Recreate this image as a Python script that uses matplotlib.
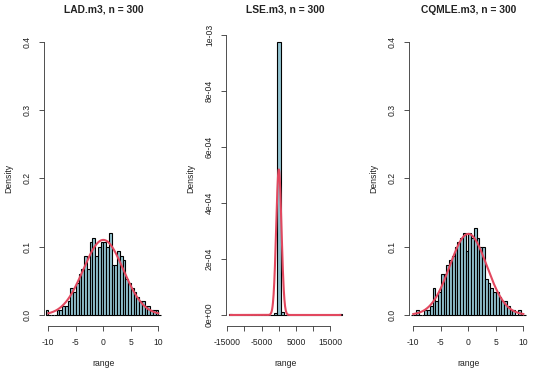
import numpy as np
import matplotlib
matplotlib.use("Agg")
import matplotlib.pyplot as plt

plt.rcParams['font.family'] = ['Liberation Sans', 'DejaVu Sans']

# ---------------- data ----------------
n_obs = 300
titles = ["LAD.m3, n = 300", "LSE.m3, n = 300", "CQMLE.m3, n = 300"]
x_label = "range"
y_label = "Density"

# LAD.m3 histogram (bin width 0.5 starting at -10.5), counts per bin
lad_bin_start = -10.5
lad_bin_width = 0.5
lad_counts = [1, 0, 0, 0, 1, 1, 2, 2, 3, 6, 5, 7, 9, 10, 13, 10, 16, 17, 13, 15, 16,
              16, 15, 18, 11, 11, 14, 13, 12, 8, 7, 6, 5, 4, 3, 3, 2, 2, 1, 1, 1, 0]
lad_mean, lad_sd = 0.0, 3.63
lad_xlim = [-10, 10]
lad_ylim = [0, 0.4]
lad_xticks = [-10, -5, 0, 5, 10]
lad_xticklabels = ["-10", "-5", "0", "5", "10"]
lad_yticks = [0.0, 0.1, 0.2, 0.3, 0.4]
lad_yticklabels = ["0.0", "0.1", "0.2", "0.3", "0.4"]

# LSE.m3 histogram (bin width 1000 starting at -14500)
lse_bin_start = -14500
lse_bin_width = 1000
lse_counts = [1, 0, 0, 0, 0, 0, 0, 0, 0, 0, 0, 0, 0, 2, 293, 3, 0,
              0, 0, 0, 0, 0, 0, 0, 0, 0, 0, 0, 0, 0, 0, 0, 1]
lse_mean, lse_sd = 0.0, 767.0
lse_xlim = [-14100, 17930]
lse_xticks = [-15000, -10000, -5000, 0, 5000, 10000, 15000]
lse_xticklabels = ["-15000", "", "-5000", "", "5000", "", "15000"]
lse_yticks = [0.0, 2e-4, 4e-4, 6e-4, 8e-4, 1e-3]
lse_yticklabels = ["0e+00", "2e-04", "4e-04", "6e-04", "8e-04", "1e-03"]

# CQMLE.m3 histogram (bin width 0.5 starting at -10.5)
cq_bin_start = -10.5
cq_bin_width = 0.5
cq_counts = [0, 0, 1, 0, 0, 1, 1, 2, 6, 3, 5, 9, 9, 11, 12, 13, 15, 16, 17, 18, 14,
             18, 17, 19, 17, 15, 15, 8, 7, 6, 5, 5, 4, 3, 3, 2, 1, 1, 0, 1, 0, 0]
cq_mean, cq_sd = 0.0, 3.36
cq_xlim = [-10, 10]
cq_ylim = [0, 0.4]

# ---------------- figure ----------------
W, H = 535, 376
fig = plt.figure(figsize=(W / 100, H / 100), dpi=100)
fig.patch.set_facecolor("white")

bar_fill = "#93C4D1"
curve_col = "#E2485F"
text_col = "#222222"

lefts = [43.9, 226.0, 408.9]
pw = 118.8
top_px, bot_px = 30.8, 325.9

lse_dens_max = max(lse_counts) / (n_obs * lse_bin_width)

panels = [
    dict(start=lad_bin_start, width=lad_bin_width, counts=lad_counts, mean=lad_mean, sd=lad_sd,
         xlim=lad_xlim, ylim=lad_ylim, xt=lad_xticks, xtl=lad_xticklabels,
         yt=lad_yticks, ytl=lad_yticklabels),
    dict(start=lse_bin_start, width=lse_bin_width, counts=lse_counts, mean=lse_mean, sd=lse_sd,
         xlim=lse_xlim, ylim=[0, lse_dens_max], xt=lse_xticks, xtl=lse_xticklabels,
         yt=lse_yticks, ytl=lse_yticklabels),
    dict(start=cq_bin_start, width=cq_bin_width, counts=cq_counts, mean=cq_mean, sd=cq_sd,
         xlim=cq_xlim, ylim=cq_ylim, xt=lad_xticks, xtl=lad_xticklabels,
         yt=lad_yticks, ytl=lad_yticklabels),
]

for i, p in enumerate(panels):
    L = lefts[i]
    ax = fig.add_axes([L / W, 1 - bot_px / H, pw / W, (bot_px - top_px) / H])
    ax.set_facecolor("none")
    x0, x1 = p["xlim"]
    dx = 0.04 * (x1 - x0)
    ax.set_xlim(x0 - dx, x1 + dx)
    y0, y1 = p["ylim"]
    dy = 0.04 * (y1 - y0)
    ax.set_ylim(y0 - dy, y1 + dy)

    counts = np.array(p["counts"], dtype=float)
    edges = p["start"] + p["width"] * np.arange(len(counts))
    dens = counts / (n_obs * p["width"])
    ax.bar(edges, dens, width=p["width"], align="edge", color=bar_fill,
           edgecolor="black", linewidth=0.8, zorder=2)

    xs = np.linspace(x0, x1, 500)
    ys = np.exp(-0.5 * ((xs - p["mean"]) / p["sd"]) ** 2) / (p["sd"] * np.sqrt(2 * np.pi))
    ax.plot(xs, ys, color=curve_col, lw=1.5, zorder=3)

    for s in ["top", "right"]:
        ax.spines[s].set_visible(False)
    ax.spines["left"].set_bounds(p["yt"][0], p["yt"][-1])
    ax.spines["bottom"].set_bounds(p["xt"][0], p["xt"][-1])
    for s in ["left", "bottom"]:
        ax.spines[s].set_linewidth(0.6)
        ax.spines[s].set_color("#333333")

    ax.set_xticks(p["xt"])
    ax.set_xticklabels(p["xtl"])
    ax.set_yticks(p["yt"])
    ax.set_yticklabels(p["ytl"], rotation=90, va="center")
    ax.tick_params(axis="both", direction="out", length=3.6, width=0.6,
                   color="#333333", labelsize=6.2, labelcolor=text_col)
    ax.tick_params(axis="x", pad=5)
    ax.tick_params(axis="y", pad=5)

    cx = L + pw / 2
    fig.text(cx / W, 1 - 10 / H, titles[i], ha="center", va="center",
             fontsize=7.4, fontweight="bold", color=text_col)
    fig.text(cx / W, 1 - 363 / H, x_label, ha="center", va="center",
             fontsize=6.2, color=text_col)
    fig.text((L - 35.6) / W, 1 - ((top_px + bot_px) / 2) / H, y_label, ha="center",
             va="center", rotation=90, fontsize=6.2, color=text_col)

fig.savefig("out.png", dpi=100, facecolor="white")
